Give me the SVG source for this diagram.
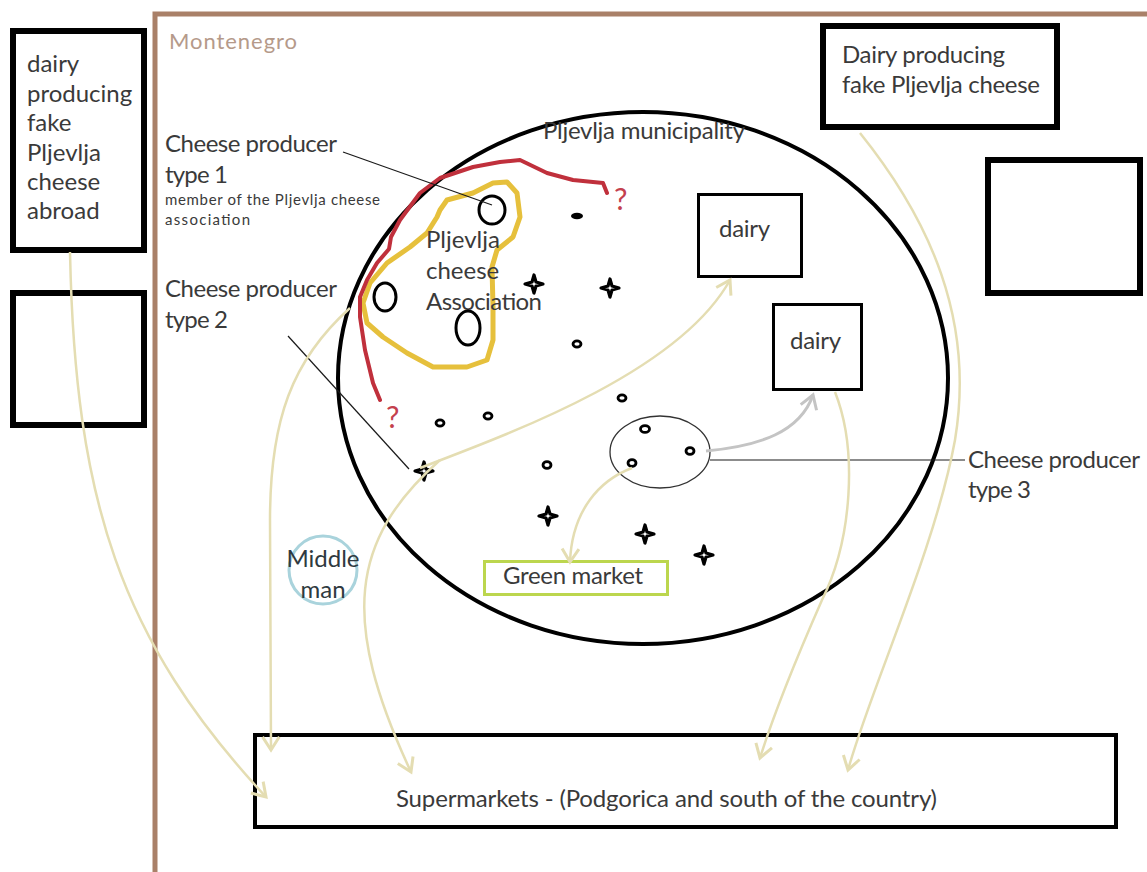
<svg xmlns="http://www.w3.org/2000/svg" width="1147" height="872" viewBox="0 0 1147 872">
  <style>
    text { font-family: Lato, "Liberation Sans", sans-serif; fill: #3a3a3a; }
    .lbl { font-size: 24px; }
    .small { font-size: 15px; }
    .box { fill: #ffffff; stroke: #000000; }
    .flow { fill: none; stroke: #e4ddb2; stroke-width: 2.5; marker-end: url(#arr); }
    .pointer { fill: none; stroke: #1a1a1a; stroke-width: 1.2; }
    .dot { fill: #ffffff; stroke: #000000; stroke-width: 2.8; }
    .star { fill: #ffffff; stroke: #000000; stroke-width: 3.2; stroke-linejoin: round; }
    .q { font-size: 30px; fill: #c4404e; }
  </style>
  <defs>
    <marker id="arr" markerUnits="userSpaceOnUse" markerWidth="24" markerHeight="24" refX="0" refY="0" viewBox="-14 -10 16 20" orient="auto">
      <path d="M-11,-7 L0,0 L-11,7" fill="none" stroke="#e4ddb2" stroke-width="2.5"/>
    </marker>
    <marker id="arrGray" markerUnits="userSpaceOnUse" markerWidth="24" markerHeight="24" refX="0" refY="0" viewBox="-14 -10 16 20" orient="auto">
      <path d="M-11,-7 L0,0 L-11,7" fill="none" stroke="#c4c4c4" stroke-width="2.5"/>
    </marker>
    <path id="starShape" d="M0,-9 L2,-2 L9,0 L2,2 L0,9 L-2,2 L-9,0 L-2,-2 Z"/>
  </defs>

  <rect width="1147" height="872" fill="#ffffff"/>

  <!-- Montenegro frame -->
  <g id="montenegro">
    <path d="M155,872 L155,14 L1147,14" fill="none" stroke="#a98068" stroke-width="5"/>
    <text x="169" y="49" style="font-size:22px; fill:#b59a8a" textLength="128">Montenegro</text>
  </g>

  <!-- Pljevlja municipality -->
  <g id="municipality">
    <ellipse cx="643" cy="378" rx="305" ry="266" fill="none" stroke="#000000" stroke-width="4"/>
    <text x="543" y="139" class="lbl" textLength="202">Pljevlja municipality</text>
  </g>

  <!-- outside dairies -->
  <g id="dairy-abroad">
    <rect x="13" y="31" width="131" height="219" class="box" stroke-width="6"/>
    <text class="lbl" x="27">
      <tspan x="27" y="72">dairy</tspan>
      <tspan x="27" y="102">producing</tspan>
      <tspan x="27" y="131">fake</tspan>
      <tspan x="27" y="161">Pljevlja</tspan>
      <tspan x="27" y="190">cheese</tspan>
      <tspan x="27" y="219">abroad</tspan>
    </text>
  </g>
  <g id="empty-box-left">
    <rect x="13" y="293" width="131" height="132" class="box" stroke-width="6"/>
  </g>
  <g id="dairy-fake">
    <rect x="823" y="26" width="234" height="101" class="box" stroke-width="6"/>
    <text class="lbl" x="842" y="63" textLength="163">Dairy producing</text>
    <text class="lbl" x="842" y="93" textLength="198">fake Pljevlja cheese</text>
  </g>
  <g id="empty-box-right">
    <rect x="988" y="160" width="152" height="133" class="box" stroke-width="6"/>
  </g>

  <!-- dairies inside the municipality -->
  <g id="dairy-1">
    <rect x="698.5" y="194.5" width="103" height="82" class="box" stroke-width="3"/>
    <text class="lbl" x="719" y="237" textLength="51">dairy</text>
  </g>
  <g id="dairy-2">
    <rect x="773.5" y="304.5" width="88" height="85" class="box" stroke-width="3"/>
    <text class="lbl" x="790" y="349" textLength="51">dairy</text>
  </g>

  <!-- Pljevlja cheese association -->
  <g id="association">
    <path d="M440,210 L447,200 L473,193 L493,183 L507,182 L517,193 L520,217 L513,237 L497,250 L492,267 L493,307 L493,340 L487,360 L467,367 L433,367 L407,353 L383,337 L367,323 L363,303 L370,283 L387,263 L410,247 L427,233 L437,217 Z" fill="none" stroke="#e6c03c" stroke-width="5" stroke-linejoin="round"/>
    <path d="M607,193 L603,183 L573,180 L547,173 L520,160 L500,162 L473,167 L440,178 L420,193 L400,220 L391,237 L389,249 L377,263 L367,280 L360,297 L360,317 L365,350 L373,383 L380,400" fill="none" stroke="#c0303c" stroke-width="4" stroke-linejoin="round" stroke-linecap="round"/>
    <text class="q" x="614" y="210">?</text>
    <text class="q" x="386" y="428">?</text>
    <text class="lbl" x="426" y="248">Pljevlja</text>
    <text class="lbl" x="426" y="279">cheese</text>
    <text class="lbl" x="426" y="310" textLength="116">Association</text>
    <ellipse cx="492" cy="210" rx="13" ry="14" fill="none" stroke="#000" stroke-width="3"/>
    <ellipse cx="385" cy="297" rx="11" ry="14" fill="none" stroke="#000" stroke-width="3"/>
    <ellipse cx="468" cy="328" rx="12" ry="17" fill="none" stroke="#000" stroke-width="3"/>
  </g>

  <!-- cheese producers (stars and small dots) -->
  <g id="producers">
    <ellipse cx="577" cy="216" rx="6" ry="3.2" fill="#000"/>
    <use href="#starShape" class="star" x="534" y="284"/>
    <use href="#starShape" class="star" x="610" y="288"/>
    <use href="#starShape" class="star" x="424" y="471"/>
    <use href="#starShape" class="star" x="548" y="516"/>
    <use href="#starShape" class="star" x="645" y="534"/>
    <use href="#starShape" class="star" x="704" y="555"/>
    <ellipse cx="577" cy="344" rx="4" ry="3.2" class="dot"/>
    <ellipse cx="622" cy="398" rx="4" ry="3.2" class="dot"/>
    <ellipse cx="488" cy="416" rx="4" ry="3.2" class="dot"/>
    <ellipse cx="440" cy="423" rx="4" ry="3.2" class="dot"/>
    <ellipse cx="547" cy="465" rx="4" ry="3.4" class="dot"/>
  </g>

  <!-- cheese producer type 3 group -->
  <g id="producers-type3">
    <ellipse cx="660" cy="452" rx="50" ry="36" fill="none" stroke="#333" stroke-width="1.3"/>
    <ellipse cx="645" cy="429" rx="4.5" ry="3.4" class="dot"/>
    <ellipse cx="632" cy="463" rx="4" ry="3.4" class="dot"/>
    <ellipse cx="690" cy="451" rx="4" ry="3.4" class="dot"/>
  </g>

  <!-- labels with pointer lines -->
  <g id="label-type1">
    <text class="lbl" x="165" y="152" textLength="172">Cheese producer</text>
    <text class="lbl" x="165" y="183" textLength="63">type 1</text>
    <text class="small" x="165" y="205" textLength="215">member of the Pljevlja cheese</text>
    <text class="small" x="165" y="225" textLength="85">association</text>
  </g>
  <g id="label-type2">
    <text class="lbl" x="165" y="297" textLength="172">Cheese producer</text>
    <text class="lbl" x="165" y="328" textLength="63">type 2</text>
  </g>
  <g id="label-type3">
    <text class="lbl" x="968" y="468" textLength="172">Cheese producer</text>
    <text class="lbl" x="968" y="498" textLength="63">type 3</text>
  </g>

  <!-- markets and middle man -->
  <g id="green-market">
    <rect x="484.5" y="561.5" width="183" height="33" fill="#fff" stroke="#bcd64e" stroke-width="3"/>
    <text class="lbl" x="503" y="584" textLength="140">Green market</text>
  </g>
  <g id="middle-man">
    <circle cx="323" cy="570" r="34" fill="none" stroke="#a9d3dc" stroke-width="3"/>
    <text class="lbl" x="323" y="567" text-anchor="middle" style="fill:#2f3a40">Middle</text>
    <text class="lbl" x="323" y="598" text-anchor="middle" style="fill:#2f3a40">man</text>
  </g>
  <g id="supermarkets">
    <rect x="255" y="735" width="861" height="92" class="box" stroke-width="4"/>
    <text class="lbl" x="396" y="807" textLength="541">Supermarkets - (Podgorica and south of the country)</text>
  </g>

  <!-- connectors -->
  <g id="connectors">
    <path class="pointer" d="M343,152 L492,205"/>
    <path class="pointer" d="M288,336 L409,469"/>
    <path class="pointer" d="M710,460 L965,460"/>

    <path class="flow" d="M70,252 C75,500 120,640 266,797"/>
    <path class="flow" d="M350,308 C292,360 270,420 270,520 L271,750"/>
    <path class="flow" d="M420,468 C520,430 680,370 730,280"/>
    <path class="flow" d="M440,460 C350,540 340,620 411,772"/>
    <path class="flow" d="M632,468 C600,480 572,510 570,562"/>
    <path class="flow" d="M835,392 C858,450 852,540 822,600 C800,650 775,710 760,758"/>
    <path class="flow" d="M860,133 C930,220 975,320 955,440 C935,550 870,690 848,770"/>
    <path d="M706,451 C760,446 800,432 813,395" fill="none" stroke="#c4c4c4" stroke-width="3" marker-end="url(#arrGray)"/>
  </g>
</svg>
